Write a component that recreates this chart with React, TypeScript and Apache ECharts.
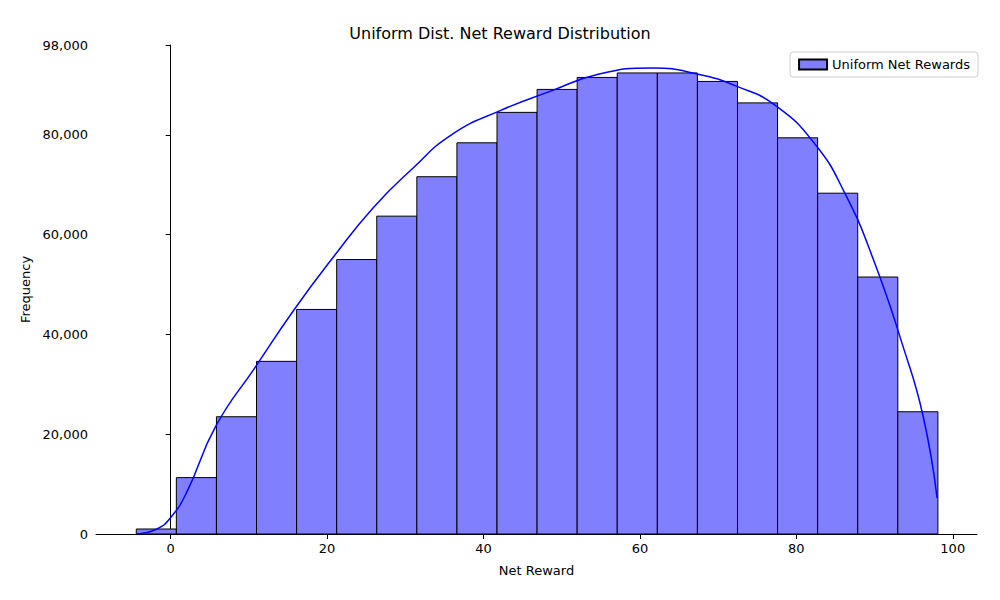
import * as echarts from 'echarts'
import { useEffect, useRef } from 'react'

const binStart = -4.4
const binWidth = 5.125
const counts = [1000, 11300, 23500, 34600, 45000, 55000, 63700, 71600, 78400, 84500, 89100, 91500, 92400, 92400, 90700, 86400, 79400, 68300, 51500, 24500]
const kdeX = [-4.4, -1.76, 0, 2, 5.8, 10.8, 15.8, 20.9, 25.9, 30.9, 35.9, 42.2, 48.5, 54.8, 61.7, 67.3, 72.4, 77.4, 82.4, 86.2, 89.9, 93.7, 96.2, 98]
const kdeY = [0, 1000, 3300, 8200, 21700, 33400, 45000, 55700, 65400, 73200, 80000, 84900, 88700, 92200, 93400, 92200, 89700, 85800, 78100, 68300, 54800, 37300, 23700, 7200]
const xTicks = [0, 20, 40, 60, 80, 100]

const font = 'DejaVu Sans'

const App = () => {
	const ref = useRef(null)

	useEffect(() => {
		const chart = echarts.init(ref.current, null, { renderer: 'svg' })
		const bins = counts.map((c, i) => [binStart + i * binWidth, binStart + (i + 1) * binWidth, c])
		chart.setOption({
			animation: false,
			textStyle: { fontFamily: font },
			title: {
				text: 'Uniform Dist. Net Reward Distribution',
				left: 'center',
				top: 12,
				textStyle: { fontFamily: font, fontSize: 16, fontWeight: 'normal', color: '#000' },
			},
			legend: {
				right: 14,
				top: 44,
				data: [{ name: 'Uniform Net Rewards', icon: 'rect' }],
				itemWidth: 28,
				itemHeight: 10,
				padding: [6, 8],
				borderColor: '#ccc',
				borderWidth: 1,
				borderRadius: 3,
				textStyle: { fontFamily: font, fontSize: 13, color: '#000' },
			},
			grid: { left: 88, right: 15, top: 37, bottom: 58 },
			xAxis: {
				type: 'value',
				min: -9.55,
				max: 103.1,
				name: 'Net Reward',
				nameLocation: 'middle',
				nameGap: 30,
				nameTextStyle: { fontFamily: font, fontSize: 13, color: '#000' },
				axisLine: { onZero: false, lineStyle: { color: '#000' } },
				axisTick: { show: true, customValues: xTicks, lineStyle: { color: '#000' } },
				axisLabel: { customValues: xTicks, fontFamily: font, fontSize: 13, color: '#000' },
				splitLine: { show: false },
			},
			yAxis: {
				type: 'value',
				min: 0,
				max: 98000,
				interval: 20000,
				name: 'Frequency',
				nameLocation: 'middle',
				nameGap: 64,
				nameTextStyle: { fontFamily: font, fontSize: 13, color: '#000' },
				axisLine: { show: true, lineStyle: { color: '#000' } },
				axisTick: { show: true, lineStyle: { color: '#000' } },
				axisLabel: { fontFamily: font, fontSize: 13, color: '#000' },
				splitLine: { show: false },
			},
			series: [
				{
					name: 'Uniform Net Rewards',
					type: 'custom',
					itemStyle: { color: '#8080ff', borderColor: '#000', borderWidth: 1 },
					renderItem: (params: any, api: any) => {
						const p0 = api.coord([api.value(0), api.value(2)])
						const p1 = api.coord([api.value(1), 0])
						return {
							type: 'rect',
							shape: { x: p0[0], y: p0[1], width: p1[0] - p0[0], height: p1[1] - p0[1] },
							style: { fill: '#8080ff', stroke: '#000', lineWidth: 1 },
						}
					},
					encode: { x: [0, 1], y: 2 },
					data: bins,
				},
				{
					name: 'kde',
					type: 'line',
					smooth: true,
					showSymbol: false,
					lineStyle: { color: '#0000ff', width: 1.5 },
					data: kdeX.map((x, i) => [x, kdeY[i]]),
					z: 5,
				},
			],
		})
		return () => chart.dispose()
	}, [])

	return <div ref={ref} style={{ width: '984px', height: '584px' }} />
}

export default App
